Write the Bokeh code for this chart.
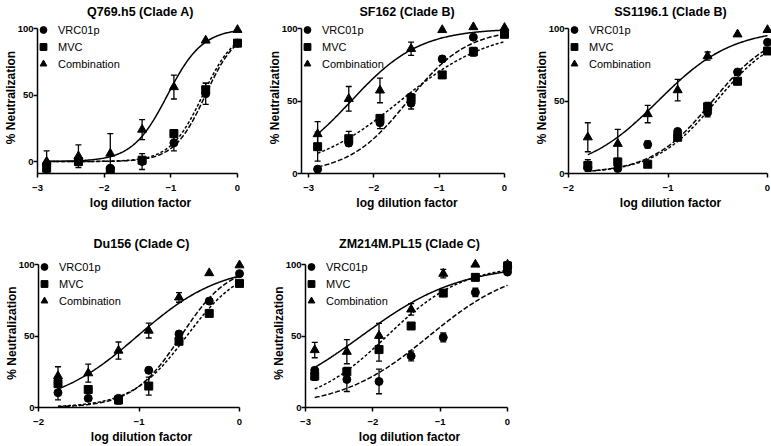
import numpy as np
from bokeh.plotting import figure
from bokeh.layouts import column, row
from bokeh.models import (ColumnDataSource, Whisker, TeeHead, FixedTicker,
                          Legend, LegendItem, Range1d)
from bokeh.embed import file_html
from bokeh.resources import INLINE

# ---------------- data ----------------
TITLES = ["Q769.h5 (Clade A)", "SF162 (Clade B)", "SS1196.1 (Clade B)",
          "Du156 (Clade C)", "ZM214M.PL15 (Clade C)"]
SERIES = ["VRC01p", "MVC", "Combination"]
X_LABEL = "log dilution factor"
Y_LABEL = "% Neutralization"

X_3FOLD = [0, -0.477, -0.954, -1.431, -1.908, -2.386, -2.863]
X_2FOLD = [0, -0.301, -0.602, -0.903, -1.204, -1.505, -1.806]
X_TICKS_3 = [-3, -2, -1, 0]
X_TICKS_2 = [-2, -1, 0]
Y_TICKS = [0, 50, 100]

# Q769.h5 (Clade A)
q769_vrc01p = [89, 51, 14, 0, -5, 1, -2]
q769_vrc01p_err = [0, 8, 6, 6, 0, 0, 0]
q769_mvc = [89, 54, 21, 1, -7, 0, -5]
q769_mvc_err = [0, 5, 3, 0, 0, 0, 0]
q769_comb = [99, 91, 56, 24, 6, 4, 0]
q769_comb_err = [0, 0, 9, 7.5, 15, 8.5, 8]
q769_logec50 = [-0.48, -0.52, -1.05]
q769_hill = [1.85, 1.8, 1.65]

# SF162 (Clade B)
sf162_vrc01p = [97, 94, 79, 48.5, 35, 21, 3]
sf162_vrc01p_err = [0, 0, 2, 4, 4, 2, 0]
sf162_mvc = [96, 84, 68, 52, 38, 24, 18.5]
sf162_mvc_err = [0, 3, 2, 3, 2, 5, 10]
sf162_comb = [100.5, 101, 99, 86, 57.3, 51.5, 27.2]
sf162_comb_err = [0, 0, 0, 4.6, 8.5, 8.5, 8.6]
sf162_logec50 = [-1.48, -1.6, -2.35]
sf162_hill = [0.95, 0.625, 0.83]

# SS1196.1 (Clade B)
ss1196_vrc01p = [90.5, 70, 42, 29, 20, 3.4, 4]
ss1196_vrc01p_err = [0, 0, 3, 0, 2.5, 0, 0]
ss1196_mvc = [84.5, 63.6, 46, 25, 6.4, 8, 5.5]
ss1196_mvc_err = [0, 0, 3, 0, 0, 0, 4]
ss1196_comb = [99, 96, 81, 57.5, 41, 20.5, 25]
ss1196_comb_err = [0, 0, 2.8, 7.4, 6, 10, 10]
ss1196_logec50 = [-0.553, -0.514, -1.10]
ss1196_hill = [1.425, 1.4, 1.17]

# Du156 (Clade C)
du156_vrc01p = [93.6, 74.4, 51.4, 26, 6.4, 6.4, 10.4]
du156_vrc01p_err = [0, 0, 0, 2, 0, 0, 5]
du156_mvc = [86.8, 65.8, 46.3, 15, 5.3, 12.6, 16.7]
du156_mvc_err = [0, 0, 2, 6.3, 3, 0, 0]
du156_comb = [99.5, 94, 77, 53.8, 39.8, 24, 22]
du156_comb_err = [0, 0, 3.4, 5.2, 6, 6.3, 6.5]
du156_logec50 = [-0.583, -0.525, -1.015]
du156_hill = [1.82, 1.6, 1.044]

# ZM214M.PL15 (Clade C)
zm214_vrc01p = [94.7, 80.5, 49, 36, 18.2, 19.6, 26]
zm214_vrc01p_err = [0, 2.9, 3.1, 3.4, 8.6, 8.4, 0]
zm214_mvc = [99, 91, 80, 57, 40.5, 25, 22]
zm214_mvc_err = [3, 2, 0, 0, 8, 0, 3]
zm214_comb = [100, 100, 93.6, 68.6, 50.2, 39, 40.2]
zm214_comb_err = [0, 0, 3, 4, 8.6, 8.4, 5.4]
zm214_logec50 = [-1.165, -1.79, -2.17]
zm214_hill = [0.661, 0.77, 0.59]

FIT_BOTTOM = 0
FIT_TOP = 100

PANELS = [
    dict(x=X_3FOLD, ticks=X_TICKS_3,
         y=[q769_vrc01p, q769_mvc, q769_comb],
         err=[q769_vrc01p_err, q769_mvc_err, q769_comb_err],
         ec50=q769_logec50, hill=q769_hill),
    dict(x=X_3FOLD, ticks=X_TICKS_3,
         y=[sf162_vrc01p, sf162_mvc, sf162_comb],
         err=[sf162_vrc01p_err, sf162_mvc_err, sf162_comb_err],
         ec50=sf162_logec50, hill=sf162_hill),
    dict(x=X_2FOLD, ticks=X_TICKS_2,
         y=[ss1196_vrc01p, ss1196_mvc, ss1196_comb],
         err=[ss1196_vrc01p_err, ss1196_mvc_err, ss1196_comb_err],
         ec50=ss1196_logec50, hill=ss1196_hill),
    dict(x=X_2FOLD, ticks=X_TICKS_2,
         y=[du156_vrc01p, du156_mvc, du156_comb],
         err=[du156_vrc01p_err, du156_mvc_err, du156_comb_err],
         ec50=du156_logec50, hill=du156_hill),
    dict(x=X_3FOLD, ticks=X_TICKS_3,
         y=[zm214_vrc01p, zm214_mvc, zm214_comb],
         err=[zm214_vrc01p_err, zm214_mvc_err, zm214_comb_err],
         ec50=zm214_logec50, hill=zm214_hill),
]

# ---------------- layout / style ----------------
FONT = "Liberation Sans"
ROW1 = dict(axis_h=145, pad_t=7, top=21, bottom=53, tstand=5)
ROW2 = dict(axis_h=143, pad_t=6, top=32, bottom=37, tstand=16)
LAYOUT = [
    dict(ROW1, xs=-3.0, axis_w=200, pad_r=6, ys=-9, left=36, right=21, toff=-2.5),
    dict(ROW1, xs=-3.11, axis_w=203, pad_r=8, ys=0, left=36, right=19, toff=1.5),
    dict(ROW1, xs=-2.0, axis_w=199, pad_r=5, ys=0, left=36, right=0, toff=-1),
    dict(ROW2, xs=-2.0, axis_w=201, pad_r=5, ys=0, left=38, right=24, toff=-3),
    dict(ROW2, xs=-3.0, axis_w=202, pad_r=6, ys=0, left=36, right=5, toff=-0.5),
]
MARKERS = ["circle", "square", "triangle"]
MSIZE = [8, 8, 9]
DASHES = ["5 2", "3 2", "solid"]
LWIDTH = [1.5, 1.5, 1.5]
LEG_ROW = 17


def make_panel(title, d, lay):
    xs = lay["xs"]
    xe = lay["pad_r"] * (0 - xs) / lay["axis_w"]
    ys = lay["ys"]
    ye = 100 + lay["pad_t"] * (100 - ys) / lay["axis_h"]
    fh = lay["axis_h"] + lay["pad_t"]
    p = figure(frame_width=lay["axis_w"] + lay["pad_r"], frame_height=fh,
               x_range=Range1d(xs, xe), y_range=Range1d(ys, ye),
               output_backend="svg", toolbar_location=None,
               min_border_left=lay["left"], min_border_right=lay["right"],
               min_border_top=lay["top"], min_border_bottom=lay["bottom"],
               title=title)
    p.outline_line_color = None
    p.xgrid.visible = False
    p.ygrid.visible = False
    p.background_fill_color = "white"
    p.border_fill_color = "white"

    p.title.align = "center"
    p.title.text_font = FONT
    p.title.text_font_style = "bold"
    p.title.text_font_size = "12.5px"
    p.title.text_color = "black"
    p.title.standoff = lay["tstand"]
    p.title.offset = lay["toff"]

    p.xaxis.ticker = FixedTicker(ticks=d["ticks"])
    p.yaxis.ticker = FixedTicker(ticks=Y_TICKS)
    p.xaxis.bounds = (xs, 0)
    p.yaxis.bounds = (ys, 100)
    p.xaxis.axis_label = X_LABEL
    p.yaxis.axis_label = Y_LABEL
    for ax in (p.xaxis[0], p.yaxis[0]):
        ax.axis_line_width = 1.5
        ax.axis_line_color = "black"
        ax.major_tick_line_width = 1.5
        ax.major_tick_line_color = "black"
        ax.major_tick_out = 4
        ax.major_tick_in = 0
        ax.minor_tick_line_color = None
        ax.major_label_text_font = FONT
        ax.major_label_text_font_style = "bold"
        ax.major_label_text_font_size = "9.5px"
        ax.major_label_text_color = "black"
        ax.axis_label_text_font = FONT
        ax.axis_label_text_font_style = "bold"
        ax.axis_label_text_font_size = "12px"
        ax.axis_label_text_color = "black"
    p.xaxis.major_label_standoff = 7
    p.xaxis.axis_label_standoff = 2
    p.yaxis.major_label_standoff = 0
    p.yaxis.axis_label_standoff = -3

    x = np.array(d["x"], dtype=float)
    xc = np.linspace(x.min(), 0, 200)
    # fitted sigmoid curves (parameters)
    for k in range(3):
        yc = FIT_BOTTOM + (FIT_TOP - FIT_BOTTOM) / (1 + 10 ** ((d["ec50"][k] - xc) * d["hill"][k]))
        p.line(xc, yc, line_color="black", line_width=LWIDTH[k], line_dash=DASHES[k])

    # error bars
    for k in range(3):
        yv = np.array(d["y"][k], dtype=float)
        ev = np.array(d["err"][k], dtype=float)
        m = ev > 0
        if m.any():
            src = ColumnDataSource(dict(x=x[m], lower=yv[m] - ev[m], upper=yv[m] + ev[m]))
            w = Whisker(source=src, base="x", lower="lower", upper="upper",
                        line_color="black", line_width=1.3,
                        upper_head=TeeHead(size=6, line_color="black", line_width=1.3),
                        lower_head=TeeHead(size=6, line_color="black", line_width=1.3))
            p.add_layout(w)

    # markers
    rends = []
    for k in range(3):
        r = p.scatter(x, d["y"][k], marker=MARKERS[k], size=MSIZE[k],
                      fill_color="black", line_color="black")
        rends.append(r)

    legend = Legend(items=[LegendItem(label=SERIES[k], renderers=[rends[k]]) for k in range(3)],
                    location=(-4, fh - 3 * LEG_ROW), glyph_width=20, glyph_height=LEG_ROW,
                    label_height=LEG_ROW, spacing=0, padding=0, margin=0,
                    label_standoff=5, label_text_font=FONT,
                    label_text_font_size="11px", label_text_color="black",
                    label_text_baseline="middle",
                    border_line_color=None, background_fill_alpha=0)
    p.add_layout(legend)
    return p


figs = [make_panel(TITLES[i], PANELS[i], LAYOUT[i]) for i in range(5)]
layout = column(row(figs[0], figs[1], figs[2]), row(figs[3], figs[4]))

open("out.html", "w").write(file_html(layout, INLINE))
